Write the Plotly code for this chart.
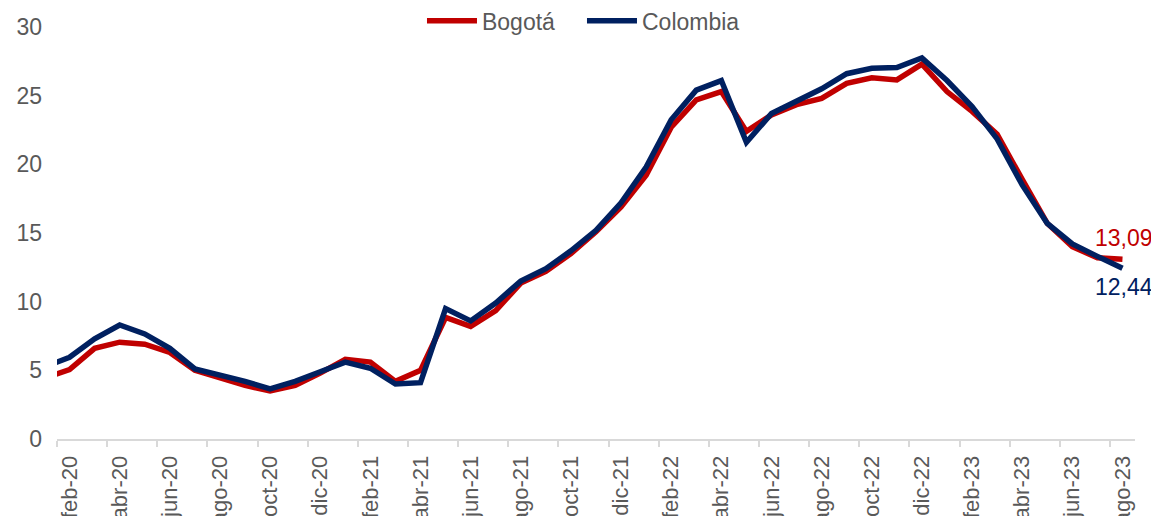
import plotly.graph_objects as go

months = ["ene-20", "feb-20", "mar-20", "abr-20", "may-20", "jun-20", "jul-20", "ago-20", "sep-20", "oct-20", "nov-20", "dic-20",
          "ene-21", "feb-21", "mar-21", "abr-21", "may-21", "jun-21", "jul-21", "ago-21", "sep-21", "oct-21", "nov-21", "dic-21",
          "ene-22", "feb-22", "mar-22", "abr-22", "may-22", "jun-22", "jul-22", "ago-22", "sep-22", "oct-22", "nov-22", "dic-22",
          "ene-23", "feb-23", "mar-23", "abr-23", "may-23", "jun-23", "jul-23", "ago-23"]

bogota = [4.45, 5.05, 6.6, 7.05, 6.9, 6.3, 5.0, 4.4, 3.9, 3.5, 3.9, 4.8,
          5.8, 5.6, 4.2, 5.0, 8.85, 8.2, 9.35, 11.35, 12.2, 13.5, 15.1, 16.9,
          19.2, 22.7, 24.7, 25.3, 22.4, 23.6, 24.35, 24.8, 25.9, 26.3, 26.15, 27.3,
          25.3, 23.85, 22.2, 18.9, 15.7, 14.0, 13.2, 13.09]

colombia = [5.25, 5.95, 7.3, 8.3, 7.65, 6.6, 5.1, 4.7, 4.2, 3.65, 4.2, 4.9,
            5.6, 5.15, 4.0, 4.1, 9.5, 8.6, 9.9, 11.5, 12.4, 13.7, 15.2, 17.2,
            19.8, 23.25, 25.4, 26.1, 21.6, 23.7, 24.6, 25.5, 26.6, 27.0, 27.05, 27.75,
            26.1, 24.2, 21.85, 18.5, 15.7, 14.2, 13.3, 12.44]

tick_labels = months[1::2]
last_labels = ["13,09", "12,44"]

idx = list(range(len(months)))
tick_pos = idx[1::2]

RED = "#C00000"
NAVY = "#002060"
GRAY = "#595959"
FONT = "Liberation Sans, Arial, sans-serif"

fig = go.Figure()
fig.add_trace(go.Scatter(x=idx, y=bogota, mode="lines", name="Bogotá",
                         line=dict(color=RED, width=5.5)))
fig.add_trace(go.Scatter(x=idx, y=colombia, mode="lines", name="Colombia",
                         line=dict(color=NAVY, width=5.5)))

fig.add_annotation(x=idx[-1], y=bogota[-1], text=last_labels[0], showarrow=False,
                   xanchor="right", yshift=21, xshift=33,
                   font=dict(color=RED, size=23, family=FONT))
fig.add_annotation(x=idx[-1], y=colombia[-1], text=last_labels[1], showarrow=False,
                   xanchor="right", yshift=-19, xshift=33,
                   font=dict(color=NAVY, size=23, family=FONT))

fig.update_layout(
    width=1151, height=508,
    margin=dict(l=49, r=24, t=19, b=77, autoexpand=False),
    plot_bgcolor="white", paper_bgcolor="white",
    font=dict(family=FONT, color=GRAY, size=23),
    showlegend=True,
    legend=dict(orientation="h", x=0.487, xanchor="center", y=1.015, yanchor="middle",
                font=dict(size=23, color=GRAY), itemwidth=50, tracegroupgap=0,
                entrywidth=95, entrywidthmode="pixels"),
    xaxis=dict(
        range=[0.5, len(months) - 0.5],
        tickmode="array", tickvals=tick_pos, ticktext=tick_labels,
        tickangle=-90, ticks="", ticklen=0,
        tickfont=dict(size=22, color=GRAY),
        ticklabelstandoff=6,
        showline=True, linecolor="#D9D9D9", linewidth=2,
        showgrid=False, zeroline=False, automargin=False,
        minor=dict(ticks="outside", tick0=0.5, dtick=2, ticklen=6,
                   tickcolor="#D9D9D9", tickwidth=2, showgrid=False),
    ),
    yaxis=dict(
        range=[0, 30], tickmode="array", tickvals=[0, 5, 10, 15, 20, 25, 30],
        showgrid=False, zeroline=False, showline=False, ticks="",
        tickfont=dict(size=23, color=GRAY), ticklabelstandoff=14,
        automargin=False,
    ),
)

fig.write_html("out.html")
